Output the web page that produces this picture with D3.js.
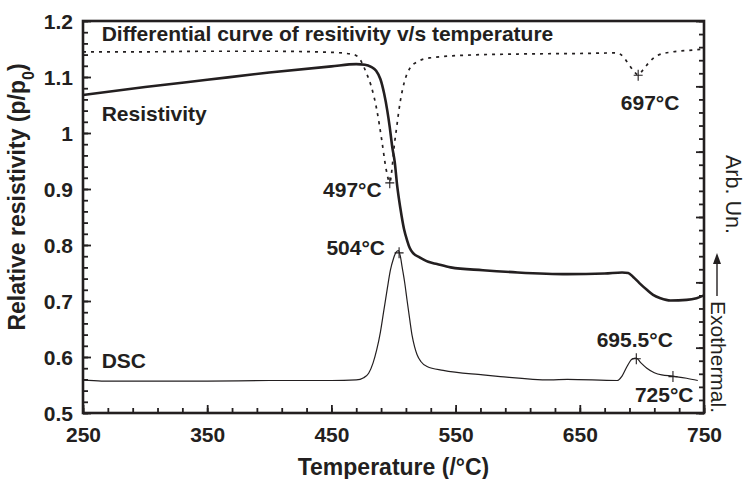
<!DOCTYPE html>
<html lang="en">
<head>
<meta charset="utf-8">
<title>Resistivity and DSC</title>
<style>
  body { margin: 0; background: #fff; }
  text { font-family: "Liberation Sans", Arial, sans-serif; fill: #231f20; }
</style>
</head>
<body>
<svg width="745" height="479"></svg>
<script src="https://d3js.org/d3.v7.min.js"></script>
<script>
  // values, [temperature, value]
  var resistivity = [
    [250, 1.068], [300, 1.082], [350, 1.095], [400, 1.108], [450, 1.119], [470, 1.123],
    [477, 1.122], [482, 1.118], [486, 1.111], [489.5, 1.096], [492.5, 1.070], [495, 1.040],
    [497, 1.010], [499, 0.975], [501, 0.948], [503, 0.905], [505.5, 0.866], [508.5, 0.828],
    [511, 0.808], [513, 0.795], [516, 0.785], [521, 0.778], [528, 0.770], [535, 0.766],
    [546, 0.760], [572, 0.755], [600, 0.751], [640, 0.748], [670, 0.749], [684, 0.751],
    [689, 0.750], [693, 0.743], [698, 0.732], [704, 0.720], [709, 0.711], [715, 0.705],
    [723, 0.701], [736, 0.702], [744, 0.705], [750, 0.710]
  ];

  var differential = [
    [250, 1.145], [300, 1.145], [350, 1.146], [400, 1.146], [450, 1.144], [468, 1.140],
    [474, 1.128], [478, 1.108], [482, 1.084], [486.5, 1.042], [490.5, 0.988], [494, 0.936],
    [497, 0.912], [499, 0.940], [500.5, 0.975], [502.6, 1.011], [505.2, 1.053], [508.5, 1.089],
    [513, 1.115], [519, 1.127], [529, 1.134], [559, 1.139], [600, 1.141], [650, 1.142],
    [680, 1.143], [685, 1.136], [689, 1.124], [693, 1.112], [697, 1.104], [701, 1.113],
    [705, 1.124], [712, 1.138], [725, 1.145], [741, 1.148], [750, 1.150]
  ];

  var dsc = [
    [250, 0.559], [265, 0.557], [300, 0.557], [350, 0.557], [400, 0.558], [450, 0.558],
    [470, 0.559], [476, 0.563], [480, 0.571], [483.5, 0.589], [486.5, 0.613], [489.5, 0.645],
    [492, 0.680], [495, 0.722], [497.5, 0.755], [500, 0.776], [502, 0.787], [504, 0.790],
    [505.5, 0.780], [507, 0.760], [509, 0.733], [511, 0.700], [513, 0.668], [515, 0.638],
    [517, 0.618], [519, 0.604], [522, 0.592], [527, 0.583], [540, 0.576], [572, 0.568],
    [586, 0.565], [626, 0.559], [640, 0.560], [680, 0.558], [684, 0.566], [688, 0.583],
    [692, 0.596], [695.5, 0.598], [699, 0.590], [704, 0.580], [710, 0.572], [716, 0.568],
    [725, 0.566], [736, 0.562], [745, 0.558]
  ];

  var markers = [[497, 0.911], [697, 1.103], [504.5, 0.786], [695.5, 0.597], [725, 0.565]];

  // annotation text with its anchor point in data units
  var notes = [
    {text: "Differential curve of resitivity v/s temperature", t: 265, v: 1.164, anchor: "start"},
    {text: "Resistivity", t: 265, v: 1.022, anchor: "start"},
    {text: "DSC", t: 265, v: 0.580, anchor: "start"},
    {text: "497\u00B0C", t: 490.5, v: 0.886, anchor: "end"},
    {text: "504\u00B0C", t: 493.2, v: 0.782, anchor: "end"},
    {text: "697\u00B0C", t: 683, v: 1.041, anchor: "start"},
    {text: "695.5\u00B0C", t: 663.6, v: 0.618, anchor: "start"},
    {text: "725\u00B0C", t: 694.4, v: 0.520, anchor: "start"}
  ];

  var xTicks = [250, 350, 450, 550, 650, 750];
  var yTicks = [0.5, 0.6, 0.7, 0.8, 0.9, 1, 1.1, 1.2];
  var yTickLabels = ["0.5", "0.6", "0.7", "0.8", "0.9", "1", "1.1", "1.2"];

  var svg = d3.select("svg"),
      margin = {top: 21, right: 41, bottom: 66, left: 83},
      width = +svg.attr("width") - margin.left - margin.right,
      height = +svg.attr("height") - margin.top - margin.bottom;

  var x = d3.scaleLinear().domain([250, 750]).range([0, width]),
      y = d3.scaleLinear().domain([0.5, 1.2]).range([height, 0]),
      yArb = d3.scaleLinear().domain([0, 30]).range([height, 0]);

  var g = svg.append("g")
    .attr("transform", "translate(" + margin.left + "," + margin.top + ")");

  var line = d3.line()
    .x(function(d) { return x(d[0]); })
    .y(function(d) { return y(d[1]); })
    .curve(d3.curveMonotoneX);

  // ticks (all pointing into the plot)
  function tidy(sel) {
    sel.select(".domain").remove();
    sel.selectAll(".tick line").attr("stroke", "#231f20").attr("stroke-width", 1.8);
  }

  g.append("g")
    .attr("transform", "translate(0," + height + ")")
    .call(d3.axisBottom(x).tickValues(d3.range(250, 751, 20)).tickSize(-5).tickFormat(""))
    .call(tidy);

  g.append("g")
    .attr("transform", "translate(0," + height + ")")
    .call(d3.axisBottom(x).tickValues(xTicks).tickSize(-8).tickPadding(14)
      .tickFormat(function(d) { return d; }))
    .call(tidy)
    .selectAll("text")
      .attr("fill", "#231f20")
      .style("font-size", "21px")
      .style("font-weight", "bold");

  g.append("g")
    .call(d3.axisLeft(y).tickValues(d3.range(0.5, 1.2001, 0.02)).tickSize(-5).tickFormat(""))
    .call(tidy);

  g.append("g")
    .call(d3.axisLeft(y).tickValues(yTicks).tickSize(-8).tickPadding(10)
      .tickFormat(function(d, i) { return yTickLabels[i]; }))
    .call(tidy)
    .selectAll("text")
      .attr("fill", "#231f20")
      .attr("dy", "0.36em")
      .style("font-size", "21px")
      .style("font-weight", "bold");

  g.append("g")
    .attr("transform", "translate(" + width + ",0)")
    .call(d3.axisRight(yArb).ticks(30).tickSize(-5).tickFormat(""))
    .call(tidy);

  g.append("g")
    .attr("transform", "translate(" + width + ",0)")
    .call(d3.axisRight(yArb).ticks(6).tickSize(-8).tickFormat(""))
    .call(tidy);

  // frame
  g.append("rect")
    .attr("width", width)
    .attr("height", height)
    .attr("fill", "none")
    .attr("stroke", "#231f20")
    .attr("stroke-width", 2.6);

  // curves
  g.append("path")
    .datum(differential)
    .attr("fill", "none")
    .attr("stroke", "#231f20")
    .attr("stroke-width", 1.7)
    .attr("stroke-dasharray", "3,5")
    .attr("d", line);

  g.append("path")
    .datum(dsc)
    .attr("fill", "none")
    .attr("stroke", "#231f20")
    .attr("stroke-width", 1.2)
    .attr("d", line);

  g.append("path")
    .datum(resistivity)
    .attr("fill", "none")
    .attr("stroke", "#231f20")
    .attr("stroke-width", 2.6)
    .attr("d", line);

  g.selectAll(".mark")
    .data(markers)
    .enter().append("path")
    .attr("class", "mark")
    .attr("transform", function(d) { return "translate(" + x(d[0]) + "," + y(d[1]) + ")"; })
    .attr("d", "M-4.5,0H4.5M0,-5.5V5.5")
    .attr("stroke", "#231f20")
    .attr("stroke-width", 1.1);

  g.selectAll(".note")
    .data(notes)
    .enter().append("text")
    .attr("class", "note")
    .attr("x", function(d) { return x(d.t); })
    .attr("y", function(d) { return y(d.v); })
    .attr("text-anchor", function(d) { return d.anchor; })
    .style("font-size", "21px")
    .style("font-weight", "bold")
    .text(function(d) { return d.text; });

  // axis titles
  g.append("text")
    .attr("x", width / 2)
    .attr("y", height + 62)
    .attr("text-anchor", "middle")
    .style("font-size", "23px")
    .style("font-weight", "bold")
    .text("Temperature (/\u00B0C)");

  var yTitle = g.append("text")
    .attr("transform", "translate(" + (-58) + "," + (height / 2 - 20) + ") rotate(-90)")
    .attr("text-anchor", "middle")
    .style("font-size", "23px")
    .style("font-weight", "bold");
  yTitle.append("tspan").text("Relative resistivity (p/p");
  yTitle.append("tspan").attr("baseline-shift", "sub").style("font-size", "16px").text("0");
  yTitle.append("tspan").text(")");

  g.append("text")
    .attr("transform", "translate(" + (width + 22) + ",134) rotate(90)")
    .style("font-size", "21.5px")
    .text("Arb. Un.");

  g.append("text")
    .attr("transform", "translate(" + (width + 7) + ",280) rotate(90)")
    .style("font-size", "21px")
    .text("Exothermal.");

  g.append("path")
    .attr("d", "M" + (width + 13) + ",275V240")
    .attr("stroke", "#231f20")
    .attr("stroke-width", 1.4);
  g.append("path")
    .attr("d", "M" + (width + 13) + ",232l-4,11h8z")
    .attr("fill", "#231f20");
</script>
</body>
</html>
